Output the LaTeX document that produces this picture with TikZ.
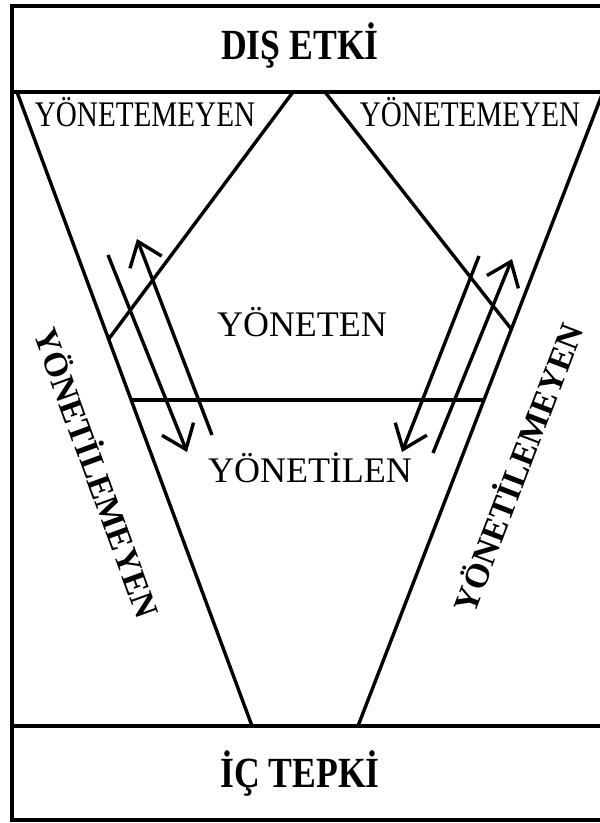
\documentclass[tikz,border=0pt]{standalone}
\usepackage{fontspec}
\setmainfont{Liberation Serif}
\usetikzlibrary{arrows.meta}

\tikzset{
  frameline/.style={line width=4pt},
  edge/.style={line width=3.4pt},
  flow/.style={line width=3.4pt, -{Straight Barb[length=22pt,width=34pt]}},
  boxtitle/.style={font=\bfseries\fontsize{43}{43}\selectfont, xscale=0.83, inner sep=0pt},
  cornerlabel/.style={font=\fontsize{36}{36}\selectfont, xscale=0.81, inner sep=0pt},
  midlabel/.style={font=\fontsize{36}{36}\selectfont, inner sep=0pt},
  sidelabel/.style={font=\bfseries\fontsize{34}{34}\selectfont, inner sep=0pt}
}

\begin{document}
\begin{tikzpicture}[x=1pt, y=-1pt]
    \useasboundingbox (0,0) rectangle (600,823);
    \clip (0,0) rectangle (600,823);

    % Outer frame and the two bands
    \draw[frameline] (12,5.5) rectangle (620,820);
    \draw[frameline] (12,92) -- (620,92);
    \draw[frameline] (12,726) -- (620,726);

    % Funnel
    \coordinate (vlt) at (17,92);
    \coordinate (vlb) at (252,726);
    \coordinate (vrt) at (603,92);
    \coordinate (vrb) at (358,726);
    \draw[edge] (vlt) -- (vlb);
    \draw[edge] (vrt) -- (vrb);

    % Inner lines
    \coordinate (ilt) at (293,92);
    \coordinate (ilb) at (108,340);
    \coordinate (irt) at (325,92);
    \coordinate (irb) at (512,330);
    \coordinate (hl) at (131,400);
    \coordinate (hr) at (485,400);
    \draw[edge] (ilt) -- (ilb);
    \draw[edge] (irt) -- (irb);
    \draw[edge] (hl) -- (hr);

    % Flows, left side
    \coordinate (ldt) at (108,255);
    \coordinate (ldh) at (187,452);
    \coordinate (lut) at (212,435);
    \coordinate (luh) at (137,239);
    \draw[flow] (ldt) -- (ldh);
    \draw[flow] (lut) -- (luh);

    % Flows, right side
    \coordinate (rdt) at (479,256);
    \coordinate (rdh) at (402,452);
    \coordinate (rut) at (433,453);
    \coordinate (ruh) at (512,259);
    \draw[flow] (rdt) -- (rdh);
    \draw[flow] (rut) -- (ruh);

    % Labels
    \node[boxtitle] (dis) at (300,46) {DIŞ ETKİ};
    \node[boxtitle] (ic) at (300,773) {İÇ TEPKİ};
    \node[cornerlabel] (nlleft) at (145,112) {YÖNETEMEYEN};
    \node[cornerlabel] (nlright) at (470,112) {YÖNETEMEYEN};
    \node[midlabel] (yoneten) at (302,322) {YÖNETEN};
    \node[midlabel] (yonetilen) at (310,468) {YÖNETİLEN};
    \node[rotate=-70, sidelabel] (sideleft) at (99,472) {YÖNETİLEMEYEN};
    \node[rotate=69, sidelabel] (sideright) at (516,467) {YÖNETİLEMEYEN};
\end{tikzpicture}
\end{document}
